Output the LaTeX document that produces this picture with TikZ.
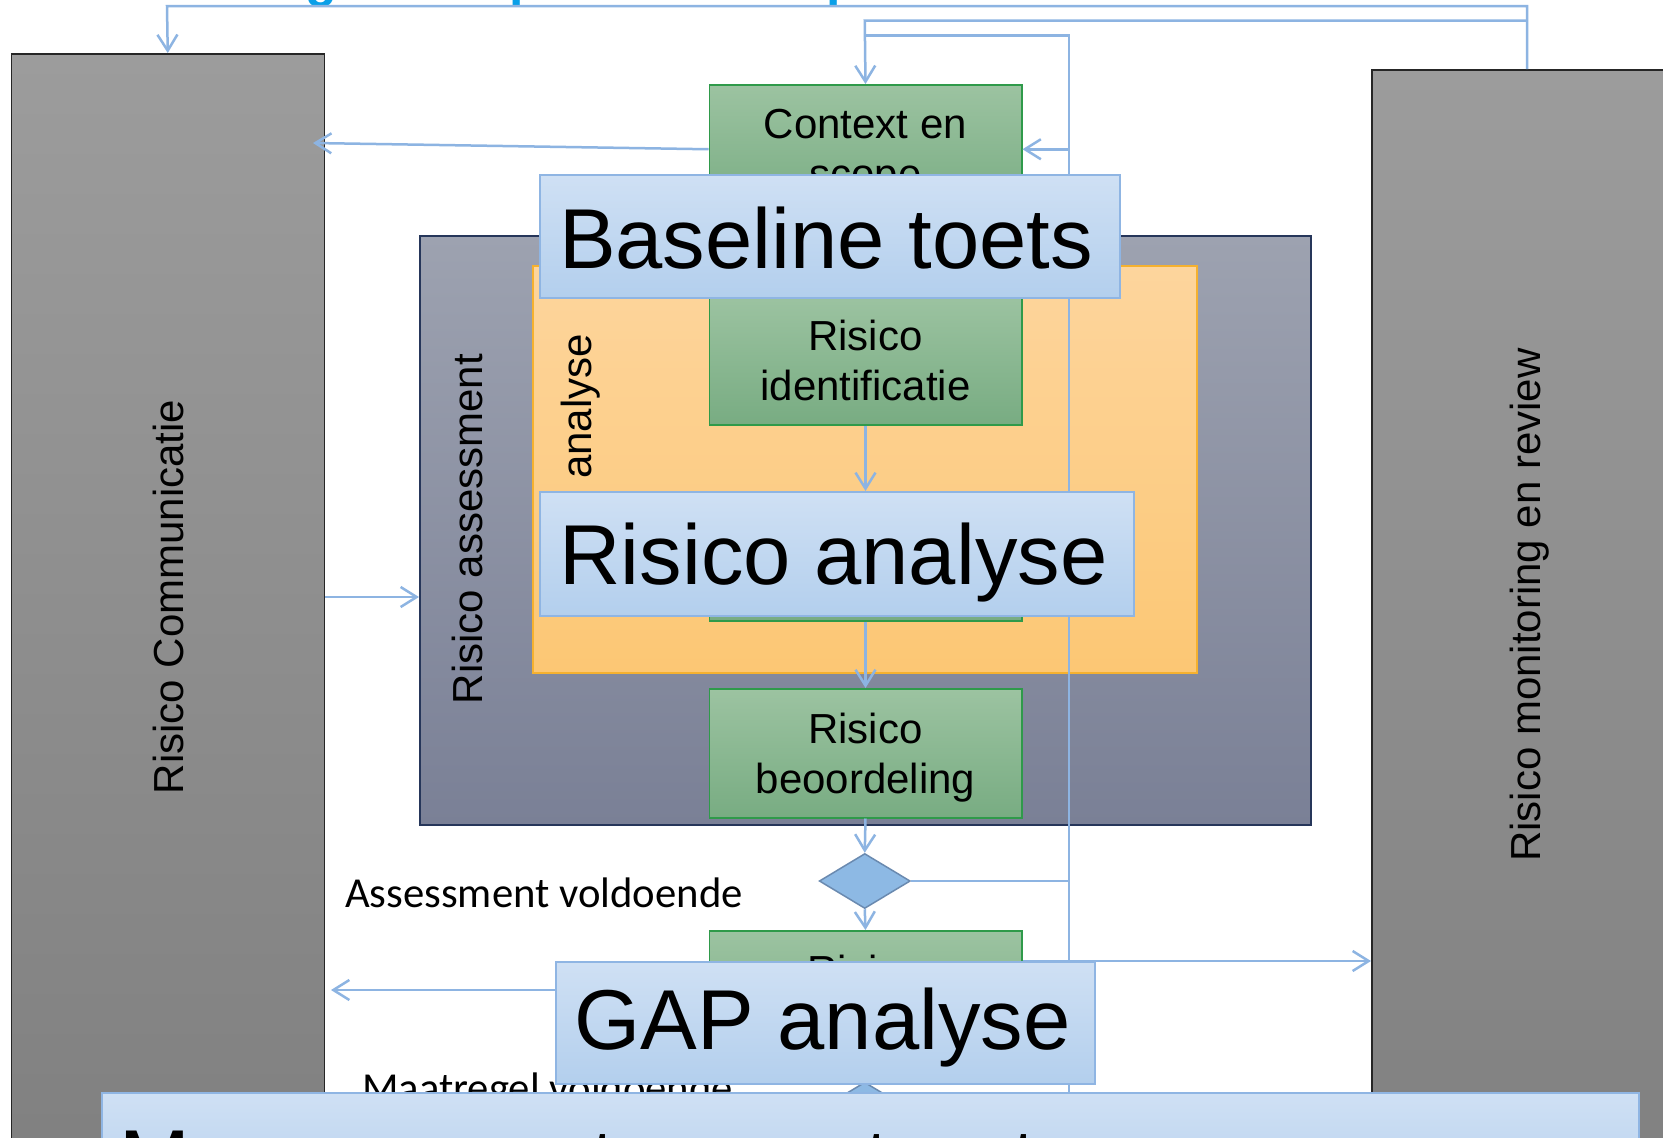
\documentclass[tikz,border=0pt]{standalone}
\usepackage{fontspec}
\setmainfont{Liberation Sans}
\newfontfamily\calib{Carlito}
\usetikzlibrary{arrows.meta,shapes.geometric}
\definecolor{gtop}{HTML}{9C9C9C}
\definecolor{gbot}{HTML}{7E7E7E}
\definecolor{atop}{HTML}{9DA2B0}
\definecolor{abot}{HTML}{7A8096}
\definecolor{aline}{HTML}{26365A}
\definecolor{otop}{HTML}{FDD59D}
\definecolor{obot}{HTML}{FCC774}
\definecolor{oline}{HTML}{F5B12F}
\definecolor{grtop}{HTML}{9CC3A1}
\definecolor{grbot}{HTML}{78AC82}
\definecolor{grline}{HTML}{2F9A4A}
\definecolor{ctop}{HTML}{CFE0F4}
\definecolor{cbot}{HTML}{B3CFED}
\definecolor{cline}{HTML}{8FB5E3}
\definecolor{conc}{HTML}{8DB4E2}
\definecolor{diaf}{HTML}{8DB9E4}
\definecolor{dial}{HTML}{6A8AB0}
\definecolor{titleblue}{HTML}{0AA0E8}
\begin{document}
\begin{tikzpicture}[x=1pt,y=-1pt,
  graybox/.style={draw=black!85,line width=1.5pt,top color=gtop,bottom color=gbot,anchor=north west,inner sep=0pt},
  asmbox/.style={draw=aline,line width=1.5pt,top color=atop,bottom color=abot,anchor=north west,inner sep=0pt},
  orbox/.style={draw=oline,line width=1.5pt,top color=otop,bottom color=obot,anchor=north west,inner sep=0pt},
  grbox/.style={draw=grline,line width=1.5pt,top color=grtop,bottom color=grbot,anchor=north west,inner sep=0pt,
     minimum width=312.5,minimum height=129,align=center,text depth=0pt,font=\fontsize{42}{50}\selectfont},
  callout/.style={draw=cline,line width=2pt,top color=ctop,bottom color=cbot,anchor=north west,inner sep=0pt},
  bigtext/.style={font=\fontsize{85}{100}\selectfont,inner sep=0pt,anchor=base},
  sidetext/.style={font=\fontsize{42}{50}\selectfont,rotate=90,inner sep=0pt},
  caltext/.style={font=\calib\fontsize{42.7}{50}\selectfont,inner sep=0pt,anchor=base west},
  conn/.style={draw=conc,line width=2.5pt},
  arr/.style={conn,-{Straight Barb[length=16pt,width=20pt]}},
  dec/.style={draw=dial,line width=1.5pt,fill=diaf,diamond,shape aspect=1.65,minimum width=91,minimum height=55,inner sep=0pt}
]
\useasboundingbox (0,0) rectangle (1663,1138);
\fill[white] (0,0) rectangle (1663,1138);

% title fragments (cut off at the top edge)
\node[font=\bfseries\fontsize{52}{60}\selectfont,text=titleblue,inner sep=0pt,anchor=base west] (tg) at (305,-3.5) {g};
\node[font=\bfseries\fontsize{52}{60}\selectfont,text=titleblue,inner sep=0pt,anchor=base west] (tp1) at (509,-3.5) {p};
\node[font=\bfseries\fontsize{52}{60}\selectfont,text=titleblue,inner sep=0pt,anchor=base west] (tp2) at (826,-3.5) {p};

% side boxes
\node[graybox,minimum width=313,minimum height=1200] (lbox) at (10.5,53) {};
\node[graybox,minimum width=400,minimum height=1200] (rbox) at (1371,69) {};
\node[sidetext] (llabel) at (168,597) {Risico Communicatie};
\node[sidetext] (rlabel) at (1530,605) {Risico monitoring en review};

% assessment and analysis frames
\node[asmbox,minimum width=891,minimum height=589] (asm) at (419,235) {};
\node[sidetext] (asmlabel) at (467,529) {Risico assessment};
\node[orbox,minimum width=664,minimum height=407] (orng) at (532,265) {};
\node[sidetext] (orlabel) at (581,469.5) {Risico analyse};

% process steps
\node[grbox] (ctx) at (708.5,84) {Context en\\scope};
\node[grbox] (ident) at (708.5,295) {Risico\\identificatie};
\node[grbox] (anal) at (708.5,491) {};
\node[grbox] (beoord) at (708.5,688) {Risico\\beoordeling};
\node[grbox] (behand) at (708.5,930) {};
\node[font=\fontsize{42}{50}\selectfont,inner sep=0pt,anchor=base] (behandtxt) at (864.75,985) {Risico};

\node[dec] (dia1) at (864.75,881) {};
\node[dec] (dia2) at (864.75,1109.6) {};
\node[caltext] (asv) at (345,907) {Assessment voldoende};
\node[caltext] (mtv) at (362,1102) {Maatregel voldoende};

% connector coordinates
\coordinate (rtop) at (1527,69);
\coordinate (t2) at (167,6);
\coordinate (j1) at (1527,20.7);
\coordinate (j2) at (864.75,20.7);
\coordinate (vb) at (1069,1240);
\coordinate (vt) at (1069,35.7);
\coordinate (vj) at (864.75,35.7);
\coordinate (lend) at (313,143);
\coordinate (y597) at (0,597);
\coordinate (y961) at (0,961);
\coordinate (y990) at (0,990);
\coordinate (lend2) at (331,990);

% connectors
\draw[arr] (rtop) -- (rtop |- t2) -- (t2) -- (lbox.north);
\draw[arr] (j1) -- (j2) -- (ctx.north);
\draw[conn] (vb) -- (vt) -- (vj);
\draw[arr] (ctx.east -| vb) -- (ctx.east);
\draw[arr] (ctx.west) -- (lend);
\draw[arr] (lbox.east |- y597) -- (asm.west |- y597);
\draw[arr] (ident.south) -- (anal.north);
\draw[arr] (anal.south) -- (beoord.north);
\draw[arr] (beoord.south) -- (dia1.north);
\draw[conn] (dia1.east) -- (dia1.east -| vb);
\draw[arr] (dia1.south) -- (behand.north);
\draw[arr] (behand.east |- y961) -- (rbox.west |- y961);
\draw[arr] (behand.west |- y990) -- (lend2);
\draw[arr] (behand.south) -- (dia2.north);

% callouts
\node[callout,minimum width=580,minimum height=123] (cbase) at (539,174) {};
\node[bigtext] (tbase) at (826,268) {Baseline toets};
\node[callout,minimum width=594,minimum height=124] (cra) at (539,491) {};
\node[bigtext] (tra) at (833.5,584) {Risico analyse};
\node[callout,minimum width=538.5,minimum height=122] (cgap) at (555,961) {};
\node[bigtext] (tgap) at (822.5,1049) {GAP analyse};
\node[callout,minimum width=1537,minimum height=124] (cman) at (100.7,1092) {};
\node[bigtext,anchor=base west] (tman) at (119,1189) {Management accepteert};
\end{tikzpicture}
\end{document}
